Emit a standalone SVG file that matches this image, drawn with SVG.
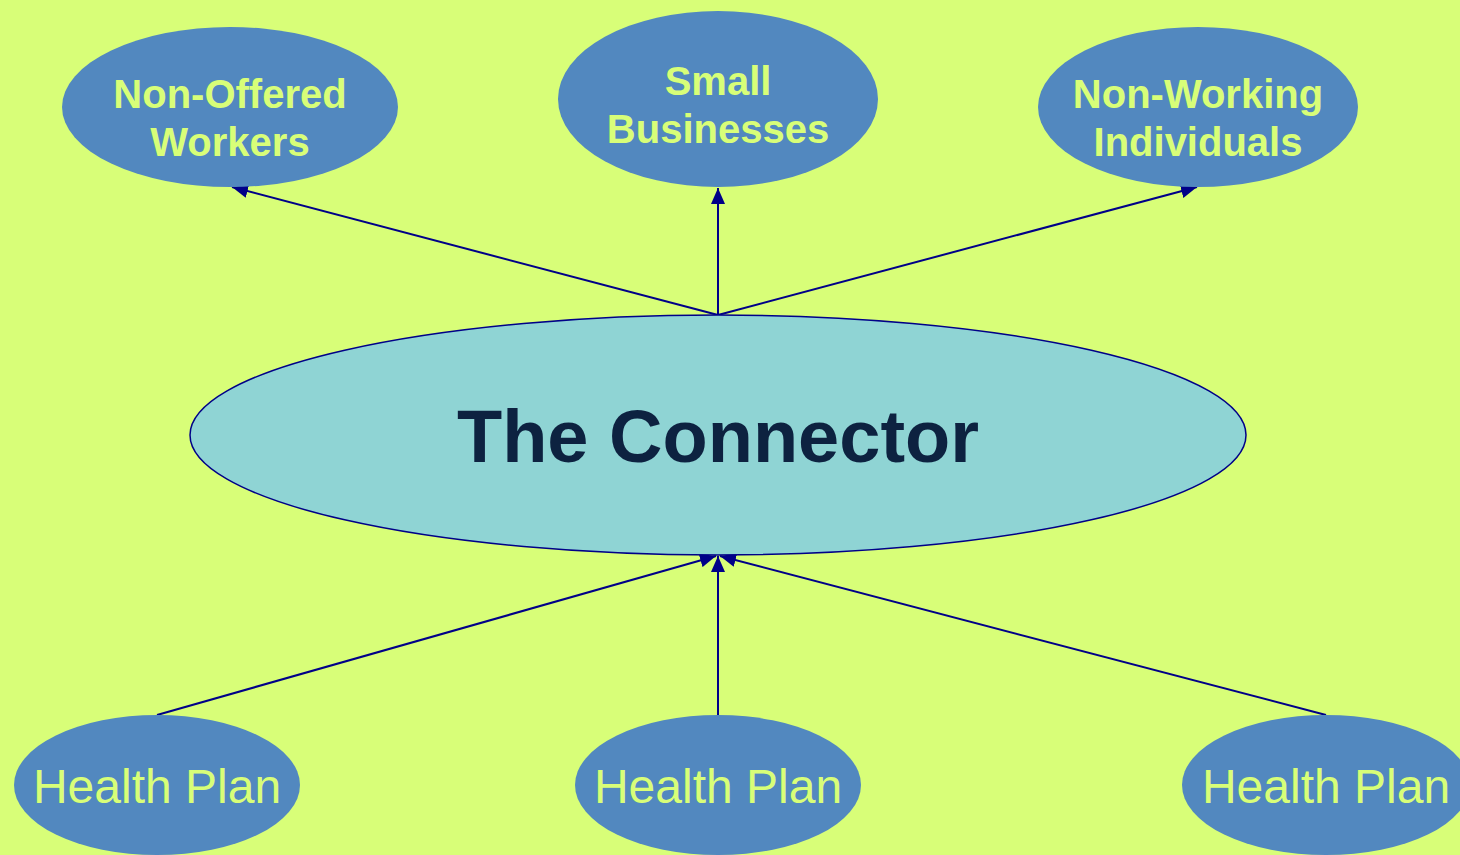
<svg xmlns="http://www.w3.org/2000/svg" width="1460" height="855" viewBox="0 0 1460 855">
<style>
.n{fill:#5288bf}
.t{fill:#d8fe78;font-family:"Liberation Sans",Arial,sans-serif;text-anchor:middle}
.b{font-weight:bold;font-size:40px}
.h{font-size:48px}
.e{stroke:#000088;stroke-width:2;fill:none;marker-end:url(#a)}
</style>
<defs>
<marker id="a" viewBox="0 0 16 14" refX="16" refY="7" markerWidth="16" markerHeight="14" markerUnits="userSpaceOnUse" orient="auto"><path d="M0,0L16,7L0,14z" fill="#000088"/></marker>
</defs>
<rect width="1460" height="855" fill="#d8fe78"/>
<g id="connectors">
<line class="e" x1="718" y1="315" x2="232" y2="187"/>
<line class="e" x1="718" y1="315" x2="718" y2="188"/>
<line class="e" x1="718" y1="315" x2="1197" y2="187"/>
<line class="e" x1="157" y1="715" x2="716" y2="556"/>
<line class="e" x1="718" y1="715" x2="718" y2="556"/>
<line class="e" x1="1326" y1="715" x2="720" y2="556"/>
</g>
<g id="connector">
<ellipse cx="718" cy="435" rx="528" ry="120" fill="#8fd4d4" stroke="#000088" stroke-width="1.5"/>
<text x="718" y="462" font-family="Liberation Sans,Arial,sans-serif" font-weight="bold" font-size="74" fill="#0d2240" text-anchor="middle">The Connector</text>
</g>
<g id="non-offered">
<ellipse class="n" cx="230" cy="107" rx="168" ry="80"/>
<text class="t b" x="230" y="108">Non-Offered</text>
<text class="t b" x="230" y="156">Workers</text>
</g>
<g id="small-businesses">
<ellipse class="n" cx="718" cy="99" rx="160" ry="88"/>
<text class="t b" x="718" y="95">Small</text>
<text class="t b" x="718" y="143">Businesses</text>
</g>
<g id="non-working">
<ellipse class="n" cx="1198" cy="107" rx="160" ry="80"/>
<text class="t b" x="1198" y="108">Non-Working</text>
<text class="t b" x="1198" y="156">Individuals</text>
</g>
<g id="hp1">
<ellipse class="n" cx="157" cy="785" rx="143" ry="70"/>
<text class="t h" x="157" y="803">Health Plan</text>
</g>
<g id="hp2">
<ellipse class="n" cx="718" cy="785" rx="143" ry="70"/>
<text class="t h" x="718" y="803">Health Plan</text>
</g>
<g id="hp3">
<ellipse class="n" cx="1326" cy="785" rx="144" ry="70"/>
<text class="t h" x="1326" y="803">Health Plan</text>
</g>
</svg>
